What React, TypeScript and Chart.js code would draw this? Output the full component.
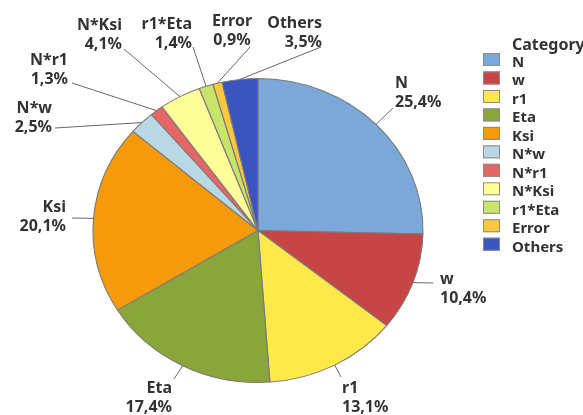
import React, { useEffect, useRef } from "react";
import { Chart, registerables } from "chart.js";

Chart.register(...registerables);

const categories = ["N", "w", "r1", "Eta", "Ksi", "N*w", "N*r1", "N*Ksi", "r1*Eta", "Error", "Others"];
const values = [25.4, 10.4, 13.1, 17.4, 20.1, 2.5, 1.3, 4.1, 1.4, 0.9, 3.5];
const colors = [
  "#7BA7D9", "#C84545", "#FFE84A", "#8AA63A", "#F59A0A", "#B9D8E3",
  "#E66565", "#FFFF99", "#C8E46A", "#FFC840", "#3A55C0",
];
const legendTitle = "Category";

// label layout: leader-line end and text anchor, relative to pie centre (px)
const labelLayout = [
  { ex: 135, ey: -122.5, tx: 137, ty: -142.5, align: "left" },
  { ex: 175, ey: 52.5, tx: 182, ty: 53.5, align: "left" },
  { ex: 83, ey: 146.5, tx: 84, ty: 162.5, align: "left" },
  { ex: -84, ey: 148.5, tx: -86, ty: 162.5, align: "right" },
  { ex: -186, ey: -12.5, tx: -192, ty: -18.5, align: "right" },
  { ex: -203, ey: -102.5, tx: -206, ty: -117.5, align: "right" },
  { ex: -186, ey: -147.5, tx: -190, ty: -165.5, align: "right" },
  { ex: -134, ey: -181.5, tx: -136, ty: -200.5, align: "right" },
  { ex: -65, ey: -183.5, tx: -66, ty: -201.5, align: "right" },
  { ex: -8, ey: -183.5, tx: -26, ty: -204.5, align: "center" },
  { ex: 63, ey: -183.5, tx: 64, ty: -202.5, align: "right" },
];

const SX = 165 / 152; // horizontal stretch of the pie (ellipse)
const TEXT_COLOR = "#333333";
const FONT = "'Noto Sans', 'Open Sans', sans-serif";

const fmt = (v: number) => v.toFixed(1).replace(".", ",") + "%";

const ellipsePlugin = {
  id: "ellipse",
  beforeDatasetsDraw(chart: any) {
    const arc = chart.getDatasetMeta(0).data[0] as any;
    const ctx = chart.ctx;
    ctx.save();
    ctx.translate(arc.x, arc.y);
    ctx.scale(SX, 1);
    ctx.translate(-arc.x, -arc.y);
  },
  afterDatasetsDraw(chart: any) {
    chart.ctx.restore();
  },
};

const labelsPlugin = {
  id: "outLabels",
  afterDraw(chart: any) {
    const ctx = chart.ctx as CanvasRenderingContext2D;
    const meta = chart.getDatasetMeta(0);
    ctx.save();
    meta.data.forEach((a: any, i: number) => {
      const lay = labelLayout[i];
      const mid = (a.startAngle + a.endAngle) / 2;
      const r = a.outerRadius;
      const sx = a.x + SX * r * Math.cos(mid);
      const sy = a.y + r * Math.sin(mid);
      ctx.strokeStyle = "#666666";
      ctx.lineWidth = 1;
      ctx.beginPath();
      ctx.moveTo(sx, sy);
      ctx.lineTo(a.x + lay.ex, a.y + lay.ey);
      ctx.stroke();
      ctx.fillStyle = TEXT_COLOR;
      ctx.font = `bold 16px ${FONT}`;
      ctx.textAlign = lay.align as CanvasTextAlign;
      ctx.textBaseline = "alphabetic";
      ctx.fillText(categories[i], a.x + lay.tx, a.y + lay.ty);
      ctx.fillText(fmt(values[i]), a.x + lay.tx, a.y + lay.ty + 18.5);
    });
    ctx.restore();
  },
};

const legendPlugin = {
  id: "customLegend",
  afterDraw(chart: any) {
    const ctx = chart.ctx as CanvasRenderingContext2D;
    ctx.save();
    const boxX = 483;
    const textX = 512;
    ctx.fillStyle = TEXT_COLOR;
    ctx.textAlign = "left";
    ctx.textBaseline = "alphabetic";
    ctx.font = `bold 16px ${FONT}`;
    ctx.fillText(legendTitle, textX, 50);
    ctx.font = `bold 15px ${FONT}`;
    categories.forEach((c, i) => {
      const base = 67 + i * 18.47;
      ctx.fillStyle = colors[i];
      ctx.fillRect(boxX, base - 14, 17, 13);
      ctx.strokeStyle = "#8a8a8a";
      ctx.lineWidth = 1;
      ctx.strokeRect(boxX + 0.5, base - 13.5, 16, 12);
      ctx.fillStyle = TEXT_COLOR;
      ctx.fillText(c, textX, base);
    });
    ctx.restore();
  },
};

export default function App() {
  const ref = useRef<HTMLCanvasElement>(null);
  useEffect(() => {
    if (!ref.current) return;
    const chart = new Chart(ref.current, {
      type: "pie",
      data: {
        labels: categories,
        datasets: [
          {
            data: values,
            backgroundColor: colors,
            borderColor: "#7a7a7a",
            borderWidth: 1,
            hoverOffset: 0,
          },
        ],
      },
      options: {
        animation: false,
        responsive: true,
        maintainAspectRatio: false,
        events: [],
        layout: { padding: { left: 105.5, right: 172.5, top: 78, bottom: 32 } },
        plugins: {
          legend: { display: false },
          tooltip: { enabled: false },
        },
      },
      plugins: [ellipsePlugin, labelsPlugin, legendPlugin],
    });
    return () => chart.destroy();
  }, []);
  return (
    <div style={{ position: "fixed", left: 0, top: 0, width: 583, height: 415, background: "#fff" }}>
      <canvas ref={ref} />
    </div>
  );
}
